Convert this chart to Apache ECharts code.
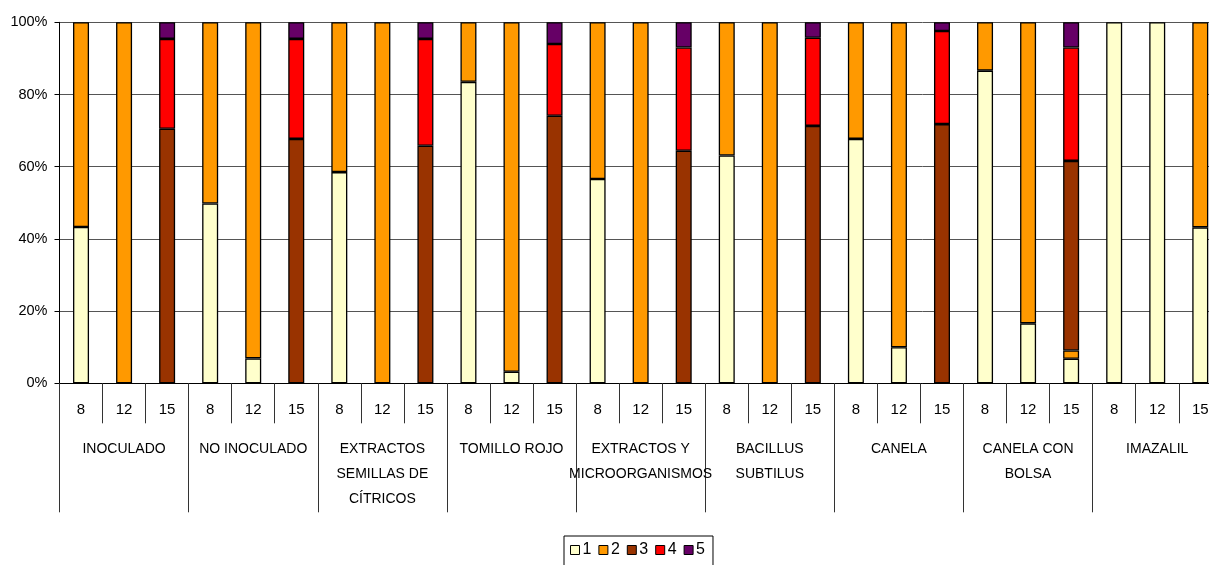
<!DOCTYPE html>
<html>
<head>
<meta charset="utf-8">
<script src="https://cdn.jsdelivr.net/npm/echarts@6/dist/echarts.min.js"></script>
<style>
  html, body { margin: 0; padding: 0; background: #fff; overflow: hidden; }
  #chart { width: 1209px; height: 565px; }
</style>
</head>
<body>
<div id="chart"></div>
<script>
// Days of storage for each treatment
const days = ['8', '12', '15', '8', '12', '15', '8', '12', '15',
              '8', '12', '15', '8', '12', '15', '8', '12', '15',
              '8', '12', '15', '8', '12', '15', '8', '12', '15'];

// Treatments (each covers three storage days)
const treatments = [
  'INOCULADO',
  'NO INOCULADO',
  'EXTRACTOS\nSEMILLAS DE\nCÍTRICOS',
  'TOMILLO ROJO',
  'EXTRACTOS Y\nMICROORGANISMOS',
  'BACILLUS\nSUBTILUS',
  'CANELA',
  'CANELA CON\nBOLSA',
  'IMAZALIL'
];

// Share (%) of fruit in each severity grade
const grade1 = [43.3, 0, 0,   49.8, 6.9, 0,   58.5, 0, 0,   83.5, 3.2, 0,   56.6, 0, 0,
                63.1, 0, 0,   67.7, 10.0, 0,  86.6, 16.6, 6.8,  100, 100, 43.2];
const grade2 = [56.7, 100, 0, 50.2, 93.1, 0,  41.5, 100, 0,  16.5, 96.8, 0,  43.4, 100, 0,
                36.9, 100, 0, 32.3, 90.0, 0,  13.4, 83.4, 2.3,  0, 0, 56.8];
const grade3 = [0, 0, 70.5,   0, 0, 67.7,     0, 0, 65.8,    0, 0, 74.1,     0, 0, 64.4,
                0, 0, 71.3,   0, 0, 71.8,     0, 0, 52.5,    0, 0, 0];
const grade4 = [0, 0, 24.9,   0, 0, 27.7,     0, 0, 29.6,    0, 0, 19.9,     0, 0, 28.6,
                0, 0, 24.4,   0, 0, 25.8,     0, 0, 31.4,    0, 0, 0];
const grade5 = [0, 0, 4.6,    0, 0, 4.6,      0, 0, 4.6,     0, 0, 6.0,      0, 0, 7.0,
                0, 0, 4.3,    0, 0, 2.4,      0, 0, 7.0,     0, 0, 0];

const seriesNames = ['1', '2', '3', '4', '5'];
const seriesData = [grade1, grade2, grade3, grade4, grade5];
const seriesColors = ['#FFFFCC', '#FF9900', '#993300', '#FF0000', '#660066'];

const font = '"Liberation Sans", Arial, sans-serif';

const chart = echarts.init(document.getElementById('chart'), null, { renderer: 'canvas' });

chart.setOption({
  animation: false,
  backgroundColor: '#ffffff',
  textStyle: { fontFamily: font, color: '#000' },
  // the plot runs slightly past the right edge of the canvas
  grid: { left: 59.5, top: 22.3, width: 1162.3, height: 361,
          containLabel: false, outerBoundsMode: 'none' },
  legend: {
    data: seriesNames,
    left: 564,
    top: 536,
    orient: 'horizontal',
    padding: [6, 8, 8, 6],
    itemWidth: 9,
    itemHeight: 9,
    itemGap: 7,
    borderColor: '#000',
    borderWidth: 1,
    icon: 'rect',
    itemStyle: { borderColor: '#000', borderWidth: 1 },
    textStyle: { fontFamily: font, fontSize: 16, color: '#000', padding: [0, 0, 0, -2] }
  },
  xAxis: [
    {
      type: 'category',
      data: days,
      position: 'bottom',
      boundaryGap: true,
      axisLine: { show: true, lineStyle: { color: '#000', width: 1 } },
      axisTick: { show: true, interval: 0, length: 40, lineStyle: { color: '#333' } },
      axisLabel: { interval: 0, margin: 19, fontSize: 15, color: '#000', fontFamily: font },
      splitLine: { show: false }
    },
    {
      type: 'category',
      data: treatments,
      position: 'bottom',
      boundaryGap: true,
      axisLine: { show: false },
      axisTick: { show: true, interval: 0, length: 129, lineStyle: { color: '#333' } },
      axisLabel: { interval: 0, margin: 53.5, fontSize: 14, lineHeight: 25, color: '#000',
                   fontFamily: font, align: 'center' },
      splitLine: { show: false }
    }
  ],
  yAxis: {
    type: 'value',
    min: 0,
    max: 100,
    interval: 20,
    axisLine: { show: true, lineStyle: { color: '#000', width: 1 } },
    axisTick: { show: true, length: 5, lineStyle: { color: '#000' } },
    axisLabel: { formatter: '{value}%', fontSize: 14.5, color: '#000', margin: 12, fontFamily: font },
    splitLine: { show: true, lineStyle: { color: '#555', width: 1 } }
  },
  series: seriesNames.map((name, i) => ({
    name: name,
    type: 'bar',
    stack: 'total',
    xAxisIndex: 0,
    barWidth: 16,
    data: seriesData[i].map(v => (v === 0 ? '-' : v)),
    itemStyle: { color: seriesColors[i], borderColor: '#000', borderWidth: 1.3 },
    emphasis: { disabled: true }
  }))
});
</script>
</body>
</html>
